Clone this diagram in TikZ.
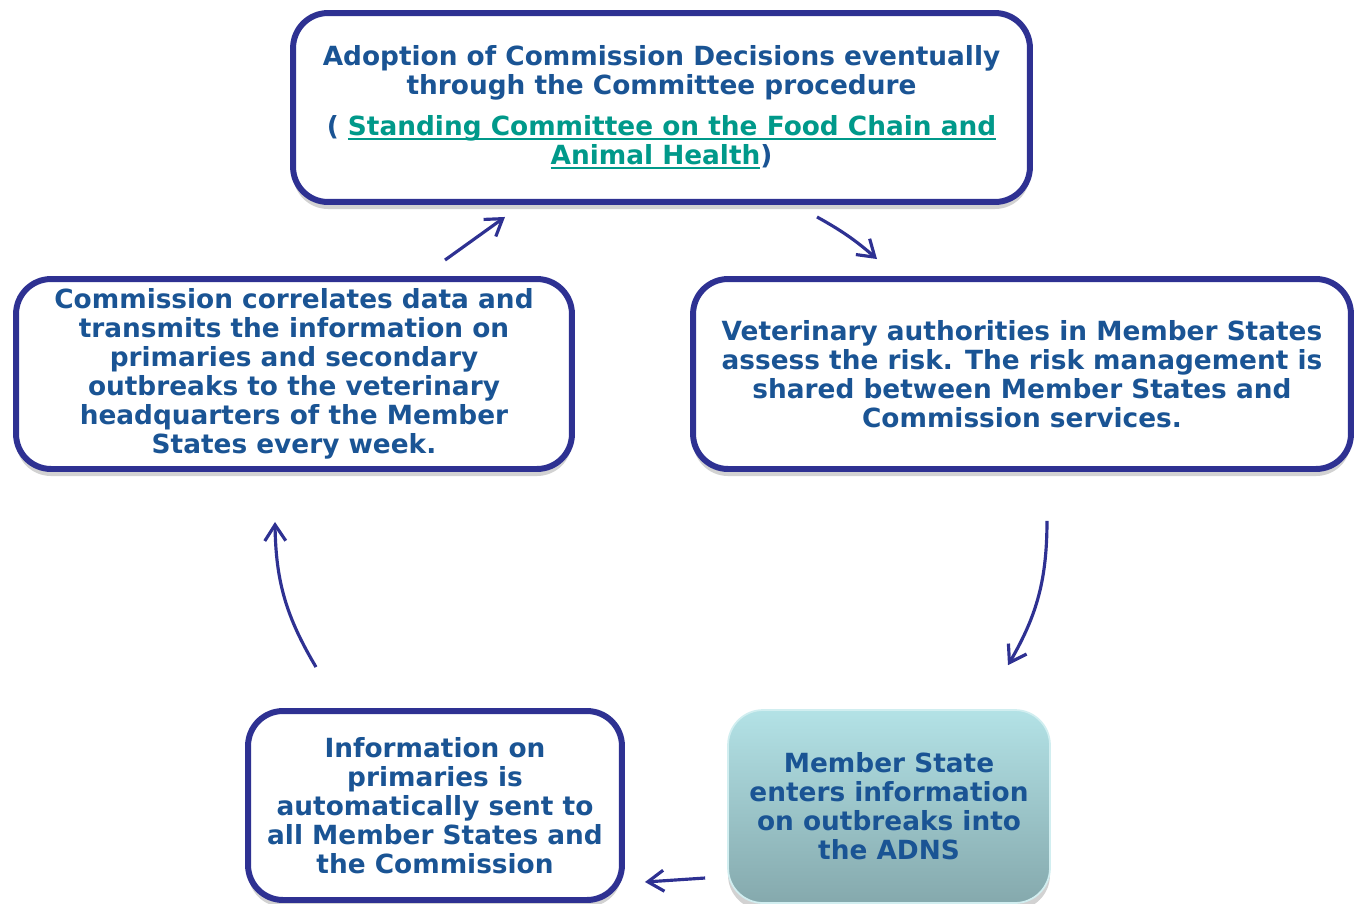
\documentclass[tikz,border=0pt]{standalone}
\usepackage{fontspec}
\setmainfont{DejaVu Sans}
\usetikzlibrary{arrows.meta,calc,shadows}

\definecolor{boxline}{HTML}{2E3192}
\definecolor{textblue}{HTML}{1A5494}
\definecolor{linkteal}{HTML}{00998A}
\definecolor{tealtop}{HTML}{B3E2E6}
\definecolor{tealbot}{HTML}{85A9AD}

\newcommand{\linkline}[1]{\textcolor{linkteal}{\setbox0\hbox{#1}%
  \rlap{\rule[-2.6pt]{\wd0}{1.1pt}}\box0}}

\tikzset{
  stepbox/.style={draw=boxline, line width=3.4pt, rounded corners=0.7cm,
    fill=white, align=center, text=textblue, inner sep=0pt,
    font=\bfseries\fontsize{15}{16.5}\selectfont,
    drop shadow={shadow xshift=0pt, shadow yshift=-4pt, opacity=0.25, fill=black!70}},
  adnsbox/.style={stepbox, draw=tealtop!60!white, line width=1pt,
    top color=tealtop, bottom color=tealbot},
  flow/.style={draw=boxline, line width=1.8pt,
    -{Straight Barb[length=0.32cm, width=0.42cm]}}
}

\begin{document}
\begin{tikzpicture}[x=0.02cm, y=-0.02cm]
    \useasboundingbox (0,0) rectangle (1354,903);

    % boxes
    \node[stepbox, minimum width=14.74cm, minimum height=3.78cm] (decision) at (661.5,107.5)
        {Adoption of Commission Decisions eventually\\
         through the Committee procedure\\[0.24cm]
         ( \linkline{Standing Committee on the Food Chain and}\\
         \linkline{Animal Health})};
    \node[stepbox, minimum width=11.12cm, minimum height=3.8cm] (correlate) at (294,374)
        {Commission correlates data and\\
         transmits the information on\\
         primaries and secondary\\
         outbreaks to the veterinary\\
         headquarters of the Member\\
         States every week.};
    \node[stepbox, minimum width=13.16cm, minimum height=3.8cm] (assess) at (1022,374)
        {Veterinary authorities in Member States\\
         assess the risk. The risk management is\\
         shared between Member States and\\
         Commission services.};
    \node[adnsbox, minimum width=6.44cm, minimum height=3.86cm] (adns) at (889,806.5)
        {Member State\\
         enters information\\
         on outbreaks into\\
         the ADNS};
    \node[stepbox, minimum width=7.48cm, minimum height=3.78cm] (primary) at (435,805.5)
        {Information on\\
         primaries is\\
         automatically sent to\\
         all Member States and\\
         the Commission};

    % cycle
    \draw[flow] ($(correlate.north)+(151,-16)$) -- ($(decision.south)+(-156.5,12)$);
    \draw[flow] ($(decision.south)+(155.5,12)$) to[bend left=6] ($(assess.north)+(-145,-17)$);
    \draw[flow] ($(assess.south)+(25,49)$) to[bend left=15] ($(adns.north)+(119,-44)$);
    \draw[flow] ($(adns.west)+(-22,71.5)$) -- ($(primary.east)+(20,76.5)$);
    \draw[flow] ($(primary.north)+(-119,-41)$) to[bend left=15] ($(correlate.south)+(-19,50)$);
\end{tikzpicture}
\end{document}
